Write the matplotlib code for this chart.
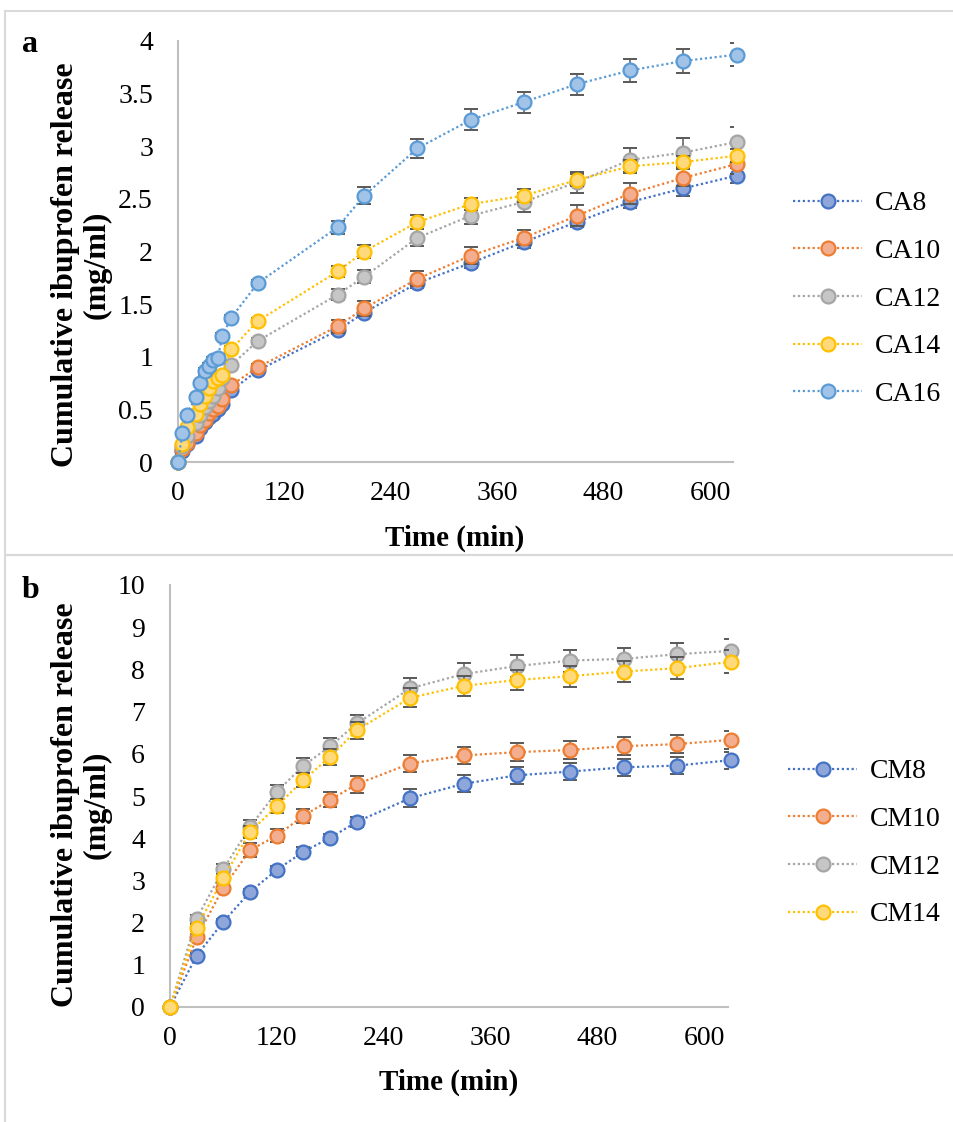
import matplotlib
matplotlib.use("Agg")
import matplotlib.pyplot as plt
from matplotlib.patches import Rectangle

plt.rcParams['font.family'] = ['Liberation Serif', 'DejaVu Serif']

# ---------------- data: panel a ----------------
time_a = [0, 5, 10, 20, 25, 30, 35, 40, 45, 50, 60, 90, 180, 210, 270, 330, 390, 450, 510, 570, 630]
CA8 = [0, 0.10, 0.17, 0.25, 0.32, 0.38, 0.43, 0.46, 0.50, 0.55, 0.68, 0.87, 1.25, 1.42, 1.70, 1.89, 2.09, 2.28, 2.47, 2.60, 2.72]
CA10 = [0, 0.12, 0.18, 0.28, 0.35, 0.40, 0.47, 0.50, 0.53, 0.60, 0.73, 0.90, 1.29, 1.46, 1.74, 1.96, 2.13, 2.34, 2.55, 2.70, 2.83]
CA12 = [0, 0.15, 0.25, 0.37, 0.45, 0.52, 0.58, 0.63, 0.70, 0.80, 0.92, 1.15, 1.59, 1.76, 2.13, 2.34, 2.47, 2.66, 2.87, 2.94, 3.04]
CA14 = [0, 0.17, 0.33, 0.46, 0.55, 0.63, 0.70, 0.77, 0.80, 0.83, 1.07, 1.34, 1.81, 2.00, 2.28, 2.45, 2.53, 2.68, 2.81, 2.85, 2.91]
CA16 = [0, 0.28, 0.45, 0.62, 0.75, 0.86, 0.91, 0.97, 0.99, 1.20, 1.37, 1.70, 2.23, 2.53, 2.98, 3.25, 3.42, 3.59, 3.72, 3.81, 3.87]
CA8_err = [0, 0.01, 0.01, 0.01, 0.01, 0.01, 0.01, 0.01, 0.02, 0.02, 0.02, 0.02, 0.03, 0.04, 0.05, 0.05, 0.06, 0.05, 0.06, 0.07, 0.07]
CA10_err = [0, 0.01, 0.01, 0.01, 0.01, 0.01, 0.02, 0.02, 0.02, 0.02, 0.02, 0.03, 0.06, 0.07, 0.07, 0.08, 0.07, 0.10, 0.10, 0.08, 0.09]
CA12_err = [0, 0.01, 0.01, 0.01, 0.02, 0.02, 0.02, 0.02, 0.02, 0.02, 0.03, 0.03, 0.05, 0.06, 0.08, 0.08, 0.09, 0.10, 0.11, 0.14, 0.14]
CA14_err = [0, 0.01, 0.01, 0.02, 0.02, 0.02, 0.02, 0.02, 0.03, 0.03, 0.03, 0.03, 0.05, 0.06, 0.07, 0.06, 0.06, 0.06, 0.06, 0.06, 0.06]
CA16_err = [0, 0.01, 0.02, 0.02, 0.02, 0.03, 0.03, 0.03, 0.03, 0.03, 0.03, 0.03, 0.06, 0.08, 0.09, 0.10, 0.10, 0.10, 0.11, 0.11, 0.11]

# ---------------- data: panel b ----------------
time_b = [0, 30, 60, 90, 120, 150, 180, 210, 270, 330, 390, 450, 510, 570, 630]
CM8 = [0, 1.22, 2.02, 2.73, 3.25, 3.68, 4.01, 4.39, 4.95, 5.29, 5.49, 5.58, 5.68, 5.72, 5.85]
CM10 = [0, 1.65, 2.83, 3.72, 4.06, 4.53, 4.91, 5.28, 5.77, 5.96, 6.04, 6.09, 6.18, 6.23, 6.33]
CM12 = [0, 2.09, 3.27, 4.27, 5.10, 5.72, 6.18, 6.72, 7.55, 7.89, 8.08, 8.21, 8.25, 8.36, 8.44]
CM14 = [0, 1.88, 3.06, 4.15, 4.76, 5.38, 5.93, 6.56, 7.33, 7.61, 7.75, 7.84, 7.95, 8.03, 8.18]
CM8_err = [0, 0.05, 0.06, 0.07, 0.08, 0.10, 0.10, 0.12, 0.21, 0.20, 0.20, 0.20, 0.20, 0.20, 0.20]
CM10_err = [0, 0.08, 0.10, 0.16, 0.16, 0.17, 0.18, 0.20, 0.20, 0.21, 0.21, 0.21, 0.21, 0.21, 0.21]
CM12_err = [0, 0.10, 0.11, 0.15, 0.17, 0.18, 0.20, 0.20, 0.24, 0.25, 0.25, 0.26, 0.26, 0.27, 0.28]
CM14_err = [0, 0.08, 0.10, 0.15, 0.16, 0.17, 0.19, 0.20, 0.22, 0.23, 0.24, 0.25, 0.25, 0.26, 0.27]

labels_a = ["CA8", "CA10", "CA12", "CA14", "CA16"]
labels_b = ["CM8", "CM10", "CM12", "CM14"]
xticks = [0, 120, 240, 360, 480, 600]
yticks_a = [0, 0.5, 1, 1.5, 2, 2.5, 3, 3.5, 4]
ytick_labels_a = ["0", "0.5", "1", "1.5", "2", "2.5", "3", "3.5", "4"]
yticks_b = list(range(0, 11))

edge_cols = ["#4472C4", "#ED7D31", "#A5A5A5", "#FFC000", "#5B9BD5"]
face_cols = ["#8FA6DA", "#F2AE8F", "#C6C6C6", "#FFD97A", "#A2C3E8"]

W, H = 954, 1122
fig = plt.figure(figsize=(W / 100, H / 100), dpi=100)


def fx(px):
    return px / W


def fy(py):
    return 1 - py / H


# panel borders
for (x0, y0, x1, y1) in [(5, 11, 960, 555), (5, 555, 960, 1130)]:
    fig.patches.append(Rectangle((fx(x0), fy(y1)), fx(x1) - fx(x0), fy(y0) - fy(y1),
                                 transform=fig.transFigure, fill=False,
                                 edgecolor="#d9d9d9", linewidth=1.5, zorder=0))

ax_a = fig.add_axes([fx(178), fy(462), fx(733) - fx(178), fy(41) - fy(462)])
ax_b = fig.add_axes([fx(170), fy(1007), fx(728) - fx(170), fy(585) - fy(1007)])


def draw(ax, t, series, errs, labels):
    handles = []
    for i, (y, e, lab) in enumerate(zip(series, errs, labels)):
        ax.errorbar(t, y, yerr=e, fmt="none", ecolor="#595959", elinewidth=1.1,
                    capsize=5, capthick=1.4, zorder=2 + i * 2)
        h, = ax.plot(t, y, linestyle=(0, (1, 1.2)), linewidth=1.6, color=edge_cols[i],
                     marker="o", markersize=10, markerfacecolor=face_cols[i],
                     markeredgecolor=edge_cols[i], markeredgewidth=1.6,
                     label=lab, zorder=3 + i * 2, clip_on=False)
        handles.append(h)
    for s in ["top", "right"]:
        ax.spines[s].set_visible(False)
    for s in ["left", "bottom"]:
        ax.spines[s].set_color("#bfbfbf")
        ax.spines[s].set_linewidth(1.5)
    ax.tick_params(axis="both", length=0, labelsize=20)
    ax.tick_params(axis="x", pad=14)
    ax.tick_params(axis="y", pad=18)
    return handles


draw(ax_a, time_a, [CA8, CA10, CA12, CA14, CA16],
     [CA8_err, CA10_err, CA12_err, CA14_err, CA16_err], labels_a)
ax_a.set_xlim(0, 626)
ax_a.set_ylim(0, 4)
ax_a.set_xticks(xticks)
ax_a.set_yticks(yticks_a)
ax_a.set_yticklabels(ytick_labels_a)

draw(ax_b, time_b, [CM8, CM10, CM12, CM14],
     [CM8_err, CM10_err, CM12_err, CM14_err], labels_b)
ax_b.set_xlim(0, 627)
ax_b.set_ylim(0, 10)
ax_b.set_xticks(xticks)
ax_b.set_yticks(yticks_b)

leg_kw = dict(loc="center left", frameon=False, fontsize=20, handlelength=2.5,
              handletextpad=0.45, labelspacing=0.8, numpoints=1,
              bbox_transform=fig.transFigure, borderaxespad=0, borderpad=0)
ax_a.legend(bbox_to_anchor=(fx(793), fy(299)), **leg_kw)
ax_b.legend(bbox_to_anchor=(fx(788), fy(843)), **leg_kw)

# axis titles
fig.text(fx(455), fy(538), "Time (min)", ha="center", va="center",
         fontsize=21, fontweight="bold")
fig.text(fx(449), fy(1082), "Time (min)", ha="center", va="center",
         fontsize=21, fontweight="bold")
ylab = "Cumulative ibuprofen release\n(mg/ml)"
fig.text(fx(81), fy(265), ylab, ha="center", va="center", rotation=90,
         fontsize=23, fontweight="bold", linespacing=1.12)
fig.text(fx(81), fy(805), ylab, ha="center", va="center", rotation=90,
         fontsize=23, fontweight="bold", linespacing=1.12)

# panel letters
fig.text(fx(22), fy(45), "a", ha="left", va="center", fontsize=23, fontweight="bold")
fig.text(fx(22), fy(590), "b", ha="left", va="center", fontsize=23, fontweight="bold")

fig.savefig("out.png", dpi=100)
